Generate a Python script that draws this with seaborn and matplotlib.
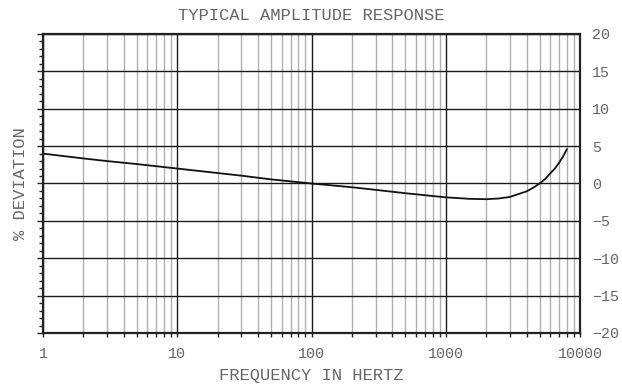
import matplotlib
matplotlib.use("Agg")
import matplotlib.pyplot as plt
import seaborn as sns
import numpy as np
import pandas as pd
from matplotlib.ticker import LogLocator, MultipleLocator, FixedLocator, NullFormatter

frequency_hz = [1, 2, 3, 5, 10, 20, 30, 50, 100, 200, 300, 500, 1000, 1500, 2000,
                2500, 3000, 4000, 4500, 5000, 5500, 6000, 6500, 7000, 7500, 8000]
deviation_pct = [4.0, 3.35, 3.0, 2.6, 2.0, 1.4, 1.05, 0.55, 0.0, -0.5, -0.85, -1.3, -1.85, -2.05, -2.1,
                 -2.0, -1.8, -1.05, -0.55, 0.0, 0.6, 1.35, 2.0, 2.8, 3.65, 4.6]
x_tick_values = [1, 10, 100, 1000, 10000]
x_tick_labels = ["1", "10", "100", "1000", "10000"]
y_tick_values = [-20, -15, -10, -5, 0, 5, 10, 15, 20]

title_text = "TYPICAL AMPLITUDE RESPONSE"
xlabel_text = "FREQUENCY IN HERTZ"
ylabel_text = "% DEVIATION"

sns.set_style("white")
plt.rcParams['font.family'] = ['Liberation Mono', 'DejaVu Sans Mono']

text_color = "#666666"

fig = plt.figure(figsize=(6.22, 3.85), dpi=100)
ax = fig.add_axes([43/622, 1-333/385, (580-43)/622, (333-34)/385])

df = pd.DataFrame({"freq": frequency_hz, "dev": deviation_pct})
sns.lineplot(data=df, x="freq", y="dev", ax=ax, color="#111111", linewidth=1.3)

ax.set_xscale("log")
ax.set_xlim(1, 10000)
ax.set_ylim(-20, 20)

ax.xaxis.set_major_locator(FixedLocator(x_tick_values))
ax.xaxis.set_minor_locator(LogLocator(base=10, subs=np.arange(2, 10), numticks=20))
ax.xaxis.set_minor_formatter(NullFormatter())
ax.set_xticklabels(x_tick_labels)
ax.yaxis.set_major_locator(FixedLocator(y_tick_values))
ax.yaxis.set_minor_locator(MultipleLocator(1))

ax.grid(which="major", axis="both", color="#1a1a1a", linewidth=1.0)
ax.grid(which="minor", axis="x", color="#b0b0b0", linewidth=1.0)
ax.set_axisbelow(True)

for s in ax.spines.values():
    s.set_visible(True)
    s.set_color("#222222")
    s.set_linewidth(1.6)

ax.tick_params(axis="x", which="both", bottom=True, top=False, direction="out",
               length=3, width=1.0, color="#222222", labelsize=10.8,
               labelcolor=text_color, pad=7)
ax.tick_params(axis="y", which="both", left=True, right=False, labelleft=False,
               labelright=True, direction="out", color="#222222", width=1.0,
               labelsize=10.8, labelcolor=text_color)
ax.tick_params(axis="y", which="major", length=4, pad=4.5)
ax.tick_params(axis="y", which="minor", length=3)
for t in ax.yaxis.get_major_ticks():
    t.tick2line.set_visible(False)

ax.set_xlabel(xlabel_text, fontsize=12.3, color=text_color, labelpad=5)
ax.set_ylabel(ylabel_text, fontsize=12.3, color=text_color, labelpad=7)
ax.yaxis.set_label_position("left")
ax.set_title(title_text, fontsize=12.3, color=text_color, pad=10)

fig.savefig("out.png", dpi=100)
